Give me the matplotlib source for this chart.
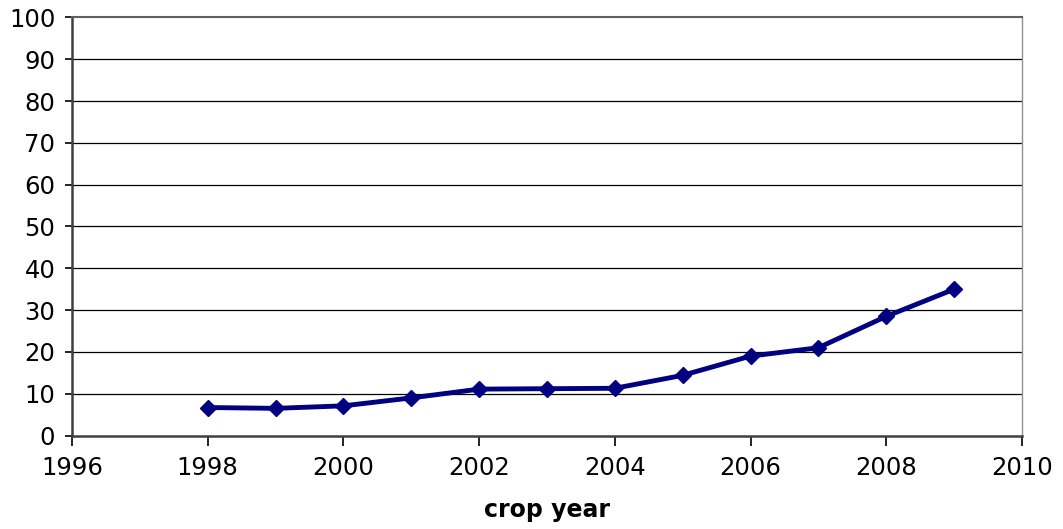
import numpy as np
import matplotlib
matplotlib.use('Agg')
import matplotlib.pyplot as plt

# values
years = [1998, 1999, 2000, 2001, 2002, 2003, 2004, 2005, 2006, 2007, 2008, 2009]
values = [6.7, 6.5, 7.1, 9.0, 11.1, 11.2, 11.3, 14.4, 19.0, 21.0, 28.5, 35.0]
xticks = [1996, 1998, 2000, 2002, 2004, 2006, 2008, 2010]
yticks = [0, 10, 20, 30, 40, 50, 60, 70, 80, 90, 100]

plt.rcParams['font.family'] = ['DejaVu Sans']

fig = plt.figure(figsize=(10.63, 5.29), dpi=100)
ax = fig.add_axes([0.0677, 0.1767, 0.8937, 0.7903])

for yv in yticks[1:-1]:
    ax.axhline(yv, color='black', lw=0.9, zorder=1)

ax.plot(years, values, color='#000080', lw=3.5, marker='D', markersize=8.5,
        zorder=3, clip_on=False)

ax.set_xlim(1996, 2010)
ax.set_ylim(0, 100)
ax.set_xticks(xticks)
ax.set_yticks(yticks)
ax.tick_params(axis='both', labelsize=17.5, colors='black', width=1.2)
ax.tick_params(axis='x', length=7, direction='out', pad=8)
ax.tick_params(axis='y', length=5, direction='out', pad=7)

ax.spines['left'].set_color('#404040')
ax.spines['left'].set_linewidth(1.8)
ax.spines['bottom'].set_color('#404040')
ax.spines['bottom'].set_linewidth(1.8)
ax.spines['top'].set_color('#606060')
ax.spines['top'].set_linewidth(1.5)
ax.spines['right'].set_color('#909090')
ax.spines['right'].set_linewidth(1.0)

ax.set_xlabel('crop year', fontsize=17, fontweight='bold', labelpad=13)

fig.savefig('out.png', dpi=100)
